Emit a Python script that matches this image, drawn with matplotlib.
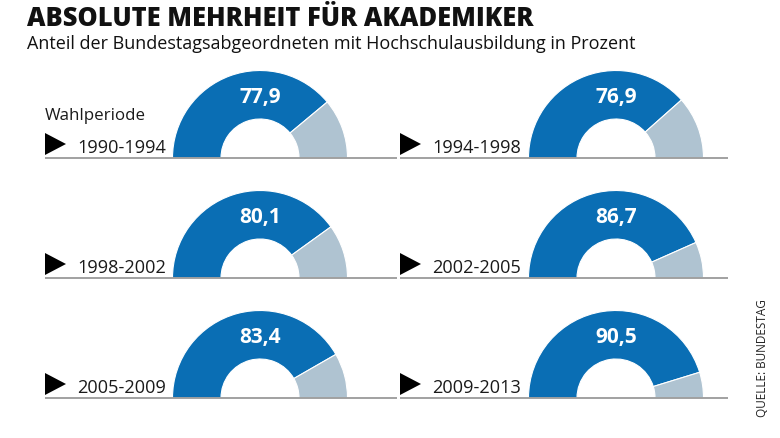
import matplotlib
matplotlib.use("Agg")
import matplotlib.pyplot as plt
from matplotlib.patches import Wedge, Polygon

periods = ["1990-1994", "1994-1998", "1998-2002", "2002-2005", "2005-2009", "2009-2013"]
values = [77.9, 76.9, 80.1, 86.7, 83.4, 90.5]

title = "ABSOLUTE MEHRHEIT FÜR AKADEMIKER"
subtitle = "Anteil der Bundestagsabgeordneten mit Hochschulausbildung in Prozent"
source = "QUELLE: BUNDESTAG"
legend_label = "Wahlperiode"

BLUE = "#0a6eb4"
LIGHT = "#afc3d1"
W, H = 780, 438

plt.rcParams['font.family'] = ['Open Sans', 'DejaVu Sans']

fig = plt.figure(figsize=(W / 100, H / 100), dpi=100)
ax = fig.add_axes([0, 0, 1, 1])
ax.set_xlim(0, W)
ax.set_ylim(0, H)
ax.axis("off")

def Y(y):
    return H - y

col_x = [260, 616]          # donut centre x
col_left = [45, 400]        # triangle / baseline left
col_right = [397, 728]
row_y = [158, 278, 398]     # baseline y (pixels from top)
R_out, R_in = 87.5, 39

for i, (p, v) in enumerate(zip(periods, values)):
    c, r = i % 2, i // 2
    cx, by = col_x[c], Y(row_y[r])
    ang = 180 - 180 * v / 100
    ax.add_patch(Wedge((cx, by), R_out, ang, 180, width=R_out - R_in,
                       facecolor=BLUE, edgecolor="white", linewidth=0.8))
    ax.add_patch(Wedge((cx, by), R_out, 0, ang, width=R_out - R_in,
                       facecolor=LIGHT, edgecolor="white", linewidth=0.8))
    ax.plot([col_left[c], col_right[c]], [by, by], color="#9a9a9a", lw=1.3,
            solid_capstyle="butt", zorder=3)
    ax.text(cx, by + 61, f"{v:.1f}".replace(".", ","), ha="center", va="center",
            color="white", fontsize=15, fontweight="bold")
    lx = col_left[c]
    ty = by + 14
    ax.add_patch(Polygon([[lx, ty + 11], [lx, ty - 11], [lx + 21, ty]],
                         closed=True, facecolor="black", edgecolor="none"))
    ax.text(lx + 32, by + 5, p, ha="left", va="baseline", fontsize=13.1,
            color="#1a1a1a")

ax.text(45, Y(120), legend_label, ha="left", va="baseline", fontsize=12.2,
        color="#1a1a1a")

fig.text(27 / W, 1 - 26 / H, title, ha="left", va="baseline", fontsize=18.4,
         fontweight="heavy", color="#111111")
fig.text(27 / W, 1 - 49 / H, subtitle, ha="left", va="baseline", fontsize=13,
         color="#111111")
fig.text(762 / W, 1 - 358 / H, source, ha="center", va="center", rotation=90,
         fontsize=8.5, color="#222222")

fig.savefig("out.png", dpi=100)
